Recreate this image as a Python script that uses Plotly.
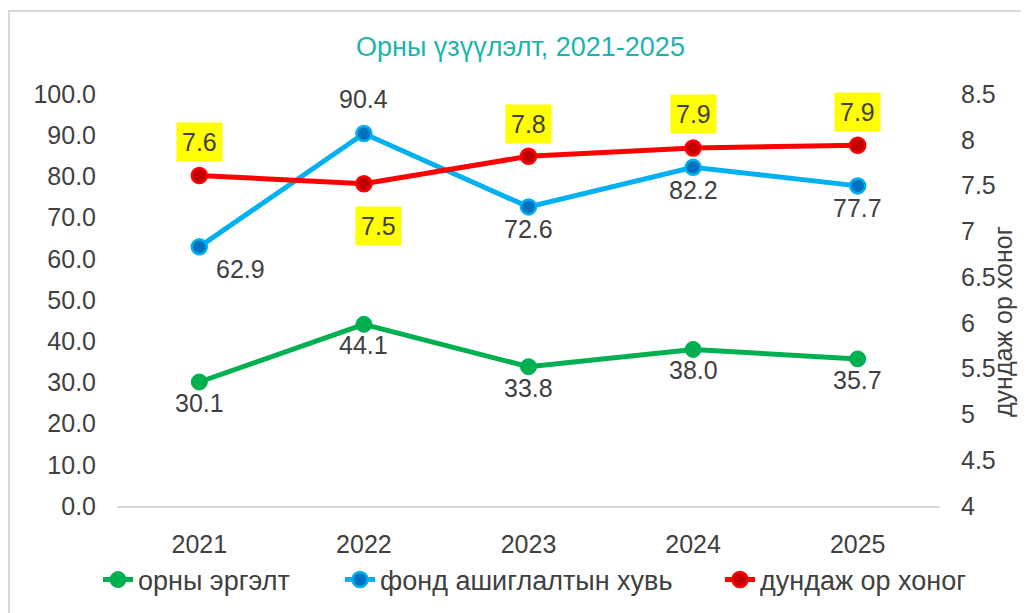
import plotly.graph_objects as go

years = ["2021", "2022", "2023", "2024", "2025"]
turnover = [30.1, 44.1, 33.8, 38.0, 35.7]          # орны эргэлт
utilization = [62.9, 90.4, 72.6, 82.2, 77.7]       # фонд ашиглалтын хувь
avg_days = [7.61, 7.52, 7.82, 7.91, 7.94]          # дундаж ор хоног

names = ["орны эргэлт", "фонд ашиглалтын хувь", "дундаж ор хоног"]
title_text = "Орны үзүүлэлт, 2021-2025"
right_title = "дундаж ор хоног"

TXT = "#404040"
FONT = "Liberation Sans, Arial, sans-serif"
FS = 25

# page offset of the figure (body margin)
OFF = 8
W, H = 1029 - OFF, 613 - OFF
L, T = 117 - OFF, 94 - OFF
PW, PH = 823, 412
R, B = W - L - PW, H - T - PH

pos = list(range(len(years)))

fig = go.Figure()
fig.add_trace(go.Scatter(
    x=pos, y=turnover, name=names[0], mode="lines+markers", legend="legend",
    line=dict(color="#00B050", width=5),
    marker=dict(color="#00B050", size=16, line=dict(color="#00B050", width=1)),
))
fig.add_trace(go.Scatter(
    x=pos, y=utilization, name=names[1], mode="lines+markers", legend="legend2",
    line=dict(color="#00B0F0", width=5),
    marker=dict(color="#0070C0", size=15, line=dict(color="#00B0F0", width=2.5)),
))
fig.add_trace(go.Scatter(
    x=pos, y=avg_days, name=names[2], mode="lines+markers", yaxis="y2", legend="legend3",
    line=dict(color="#FF0000", width=5),
    marker=dict(color="#C00000", size=15, line=dict(color="#FF0000", width=2.5)),
))

annotations = []
# green labels below
for i, v in zip(pos, turnover):
    annotations.append(dict(x=i, y=v, xref="x", yref="y", text=f"{v:.1f}",
                            showarrow=False, yshift=-21, xshift=0,
                            font=dict(size=FS, color=TXT, family=FONT)))
# blue labels
blue_off = [(41, -22), (0, 35), (0, -22), (0, -23), (0, -22)]
for (i, v), (dx, dy) in zip(zip(pos, utilization), blue_off):
    annotations.append(dict(x=i, y=v, xref="x", yref="y", text=f"{v:.1f}",
                            showarrow=False, yshift=dy, xshift=dx,
                            font=dict(size=FS, color=TXT, family=FONT)))
# red labels with yellow background
red_off = [(0, 33), (15, -42), (0, 32), (0, 34), (0, 33)]
for (i, v), (dx, dy) in zip(zip(pos, avg_days), red_off):
    annotations.append(dict(x=i, y=v, xref="x", yref="y2", text=f"{v:.1f}",
                            showarrow=False, yshift=dy, xshift=dx,
                            bgcolor="#FFFF00", borderpad=5,
                            font=dict(size=FS, color=TXT, family=FONT)))
# right axis title
annotations.append(dict(x=(1003 - 117) / PW, y=(506 - 322) / PH, xref="paper", yref="paper",
                        xanchor="center", yanchor="middle",
                        text=right_title, textangle=-90, showarrow=False,
                        font=dict(size=FS, color=TXT, family=FONT)))
# chart title
annotations.append(dict(x=(520 - 117) / PW, y=(506 - 47) / PH, xref="paper", yref="paper",
                        xanchor="center", yanchor="middle",
                        text=title_text, showarrow=False,
                        font=dict(size=27, color="#1BB3AE", family=FONT)))

LEG_FONT = dict(size=27, color=TXT, family=FONT)
def leg(xpx):
    return dict(orientation="h", x=(xpx - 117) / PW, xanchor="left",
                y=(506 - 580) / PH, yanchor="middle", font=LEG_FONT,
                bgcolor="rgba(0,0,0,0)", itemwidth=30)

fig.update_layout(
    template="none",
    width=W, height=H,
    margin=dict(l=L, r=R, t=T, b=B, autoexpand=False),
    paper_bgcolor="white", plot_bgcolor="white",
    font=dict(family=FONT, size=FS, color=TXT),
    showlegend=True,
    legend=leg(98),
    legend2=leg(340),
    legend3=leg(720),
    xaxis=dict(range=[-0.5, len(years) - 0.5], tickvals=pos, ticktext=years,
               showgrid=False, zeroline=False, showline=True, linecolor="#D9D9D9",
               linewidth=1.5, ticks="", tickfont=dict(size=FS, color=TXT),
               ticklabelstandoff=15, automargin=False),
    yaxis=dict(range=[0, 100], dtick=10, tickformat=".1f", showgrid=False,
               zeroline=False, showline=False, ticks="", automargin=False,
               tickfont=dict(size=FS, color=TXT), ticklabelstandoff=20),
    yaxis2=dict(range=[4, 8.5], dtick=0.5, overlaying="y", side="right",
                showgrid=False, zeroline=False, showline=False, ticks="",
                automargin=False,
                tickfont=dict(size=FS, color=TXT), ticklabelstandoff=20),
    annotations=annotations,
    shapes=[dict(type="rect", xref="paper", yref="paper",
                 x0=(9 - 117) / PW, x1=1.3, y0=-0.6, y1=(506 - 11) / PH,
                 line=dict(color="#DDD9D5", width=2), fillcolor="rgba(0,0,0,0)",
                 layer="below")],
)

fig.write_html("out.html")
